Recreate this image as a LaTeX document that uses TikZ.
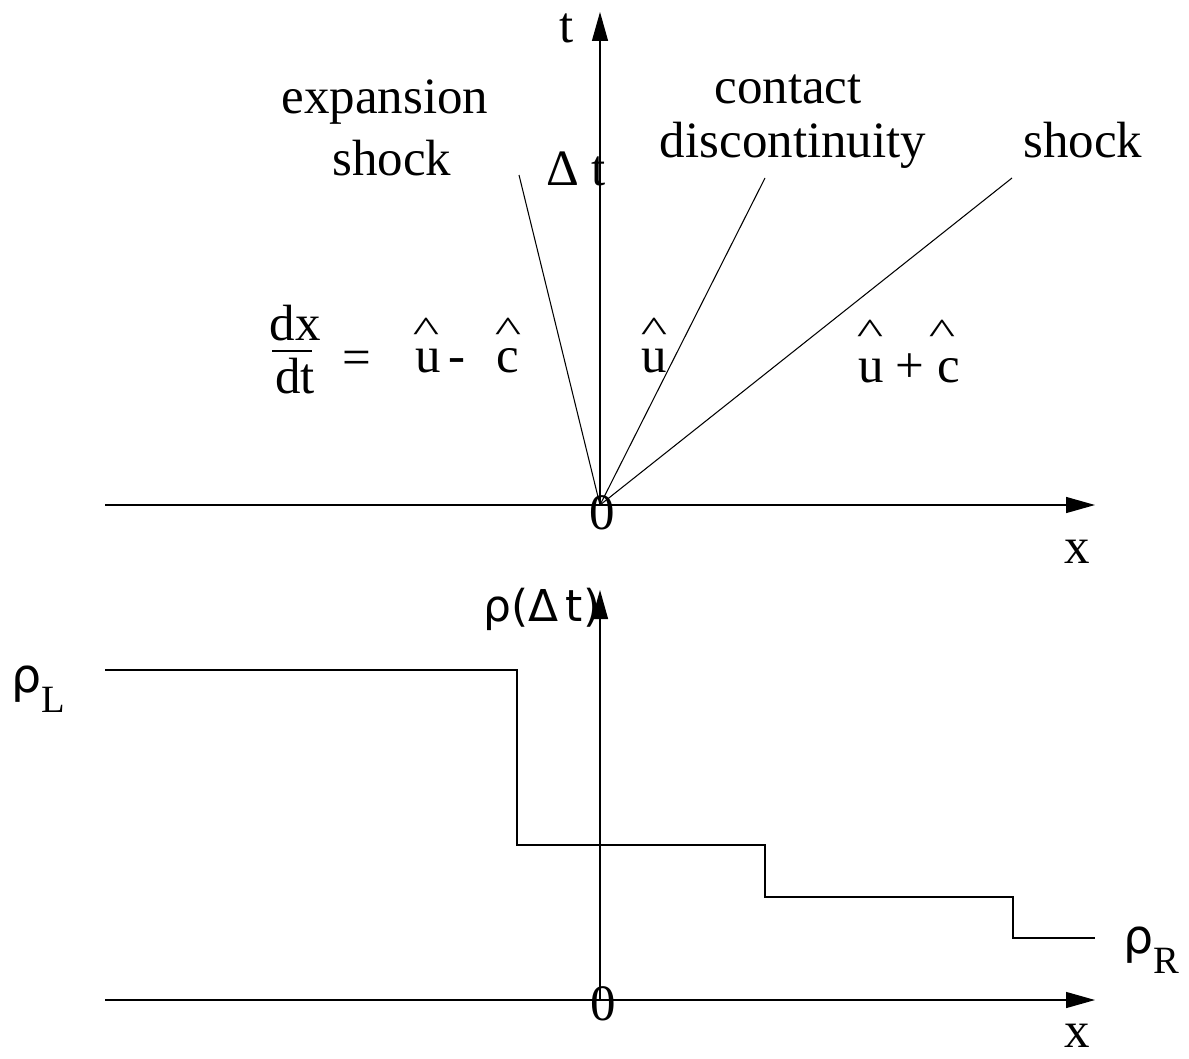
\documentclass[tikz,border=0pt]{standalone}
\usepackage{fontspec}
\setmainfont{Liberation Serif}
\newfontfamily\greekfont{DejaVu Sans}
\usetikzlibrary{arrows.meta}
\newcommand{\labelsize}{\fontsize{29}{34}\selectfont}
\newcommand{\rhosub}[1]{{\greekfont\fontsize{27}{32}\selectfont ρ}\raisebox{-0.4cm}{\fontsize{22}{26}\selectfont #1}}
\newcommand{\hatmark}{\scalebox{1.1}[0.7]{\textasciicircum}}

\begin{document}
\begin{tikzpicture}[x=0.02cm, y=-0.02cm, >={Triangle[length=0.58cm,width=0.32cm]},
  every node/.style={font=\labelsize, inner sep=0pt},
  axis/.style={->, line width=0.75pt},
  wave/.style={line width=0.6pt}]
  \useasboundingbox (0,0) rectangle (1189,1058);

  % ---- Top graph: x-t plane ----
  % Axes
  \coordinate (O) at (600,505);
  \draw[axis] (105,505) -- (1095,505);
  \draw[axis] (O) -- (600,12);
  \node (tlabel) at (567,28) {t};
  \node (xlabel) at (1077,552) {x};
  \node (zero) at (602,513) {0};
  % Waves from the origin
  \coordinate (expend) at (519,175);
  \coordinate (contend) at (765,178);
  \coordinate (shockend) at (1012,178);
  \foreach \e in {expend,contend,shockend} {
    \draw[wave] (O) -- (\e);
  }
  % Wave names
  \node[anchor=base] (expan) at (385,113) {expansion};
  \node[anchor=base] (expshock) at (392,175) {shock};
  \node[anchor=base] (contact) at (788,103) {contact};
  \node[anchor=base] (discont) at (793,157) {discontinuity};
  \node[anchor=base] (shock) at (1083,157) {shock};
  \node[anchor=base] (dt) at (576,185) {Δ t};
  % Speeds dx/dt
  \node[anchor=base] (dxnum) at (295,340) {dx};
  \node[anchor=base] (dxden) at (295,393) {dt};
  \draw[line width=0.6pt] (272,351) -- (312,351);
  \node[anchor=base] (equal) at (357,374) {=};
  \node[anchor=base] (uA) at (428,372) {u};
  \node[anchor=base] (minus) at (457,372) {-};
  \node[anchor=base] (cA) at (508,372) {c};
  \node[anchor=base] (uB) at (654,372) {u};
  \node[anchor=base] (uC) at (871,382) {u};
  \node[anchor=base] (plus) at (910,382) {+};
  \node[anchor=base] (cC) at (949,382) {c};
  % Hats
  \foreach \n/\x/\y in {hatA/426/341, hatAc/508/341, hatB/654/341, hatC/870/343, hatCc/942/343} {
    \node[anchor=base] (\n) at (\x,\y) {\hatmark};
  }

  % ---- Bottom graph: density at time dt ----
  % Axes
  \coordinate (O2) at (600,1000);
  \draw[axis] (105,1000) -- (1095,1000);
  \draw[axis] (O2) -- (600,590);
  \node (xlabelB) at (1077,1036) {x};
  \node (zeroB) at (603,1004) {0};
  \node[font=\greekfont\fontsize{25}{30}\selectfont] (rholabel) at (542,609) {ρ(Δ\,t)};
  % Density profile
  \draw[line width=0.75pt] (105,670) -| (517,845) -| (765,897) -| (1013,938) -- (1095,938);
  \node[anchor=base west] (rhoL) at (11,692) {\rhosub{L}};
  \node[anchor=base west] (rhoR) at (1123,953) {\rhosub{R}};
\end{tikzpicture}
\end{document}
